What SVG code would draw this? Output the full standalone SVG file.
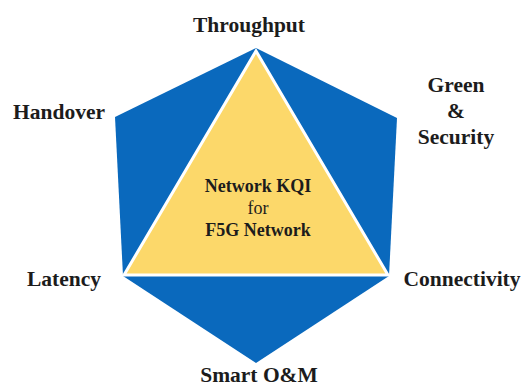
<svg xmlns="http://www.w3.org/2000/svg" width="525" height="387" viewBox="0 0 525 387">
<style>
.lbl{font-family:"Liberation Serif","Times New Roman",serif;font-weight:bold;font-size:21.5px;fill:#1c1c1c;text-anchor:middle}
.ctr{font-family:"Liberation Serif","Times New Roman",serif;font-weight:bold;font-size:18px;fill:#1c1c1c;text-anchor:middle}
.reg{font-weight:normal}
.blue{fill:#0a69bd}
.yellow{fill:#fcd86a;stroke:#ffffff;stroke-width:3;stroke-linejoin:miter}
</style>
<rect width="525" height="387" fill="#ffffff"/>
<g id="hexagon">
<polygon class="blue" points="256,48 397,118 389,276 256,363 123,276 115,117"/>
</g>
<g id="kqi-core">
<polygon class="yellow" points="256,51 388,275 124,275"/>
<text class="ctr" x="258" y="192">Network KQI</text>
<text class="ctr reg" x="258" y="214">for</text>
<text class="ctr" x="258" y="236">F5G Network</text>
</g>
<g id="throughput"><text class="lbl" x="249" y="32">Throughput</text></g>
<g id="handover"><text class="lbl" x="59" y="119">Handover</text></g>
<g id="green-security">
<text class="lbl" x="456" y="92">Green</text>
<text class="lbl" x="456" y="118">&amp;</text>
<text class="lbl" x="456" y="144">Security</text>
</g>
<g id="latency"><text class="lbl" x="64" y="286">Latency</text></g>
<g id="connectivity"><text class="lbl" x="462" y="286">Connectivity</text></g>
<g id="smart-om"><text class="lbl" x="259" y="382">Smart O&amp;M</text></g>
</svg>
